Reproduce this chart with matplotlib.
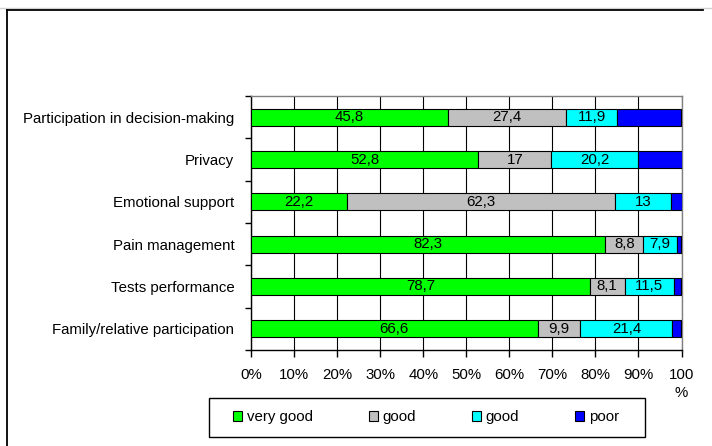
import matplotlib
matplotlib.use("Agg")
import matplotlib.pyplot as plt
from matplotlib.patches import Patch, Rectangle
from matplotlib.lines import Line2D

plt.rcParams['font.family'] = ['Liberation Sans', 'DejaVu Sans']

categories = [
    "Participation in decision-making",
    "Privacy",
    "Emotional support",
    "Pain management",
    "Tests performance",
    "Family/relative participation",
]
series_names = ["very good", "good", "good", "poor"]
very_good = [45.8, 52.8, 22.2, 82.3, 78.7, 66.6]
good_a = [27.4, 17.0, 62.3, 8.8, 8.1, 9.9]
good_b = [11.9, 20.2, 13.0, 7.9, 11.5, 21.4]
poor = [14.9, 10.0, 2.5, 1.0, 1.7, 2.1]
series = [very_good, good_a, good_b, poor]
colors = ["#00FF00", "#C0C0C0", "#00FFFF", "#0000FF"]
labelled = [True, True, True, False]
xtick_labels = ["0%", "10%", "20%", "30%", "40%", "50%", "60%", "70%",
                "80%", "90%", "100\n%"]

W, H = 712, 446
fig = plt.figure(figsize=(W / 100, H / 100), dpi=100)
ax = fig.add_axes([251 / W, 1 - 350 / H, (681.5 - 251) / W, (350 - 96) / H])

FS = 10.8
ypos = list(range(len(categories)))[::-1]


def fmt(v):
    if abs(v - round(v)) < 1e-9:
        return str(int(round(v)))
    return f"{v:.1f}".replace(".", ",")


left = [0.0] * len(categories)
for vals, col, lab in zip(series, colors, labelled):
    ax.barh(ypos, vals, left=left, height=0.4, color=col,
            edgecolor="black", linewidth=0.8, zorder=3)
    if lab:
        for y, l, v in zip(ypos, left, vals):
            ax.text(l + v / 2, y, fmt(v), ha="center", va="center",
                    fontsize=FS, zorder=4)
    left = [a + b for a, b in zip(left, vals)]

ax.set_xlim(0, 100)
ax.set_ylim(-0.5, len(categories) - 0.5)
ax.set_xticks(range(0, 101, 10))
ax.set_xticklabels(xtick_labels, fontsize=FS, linespacing=1.35, va="top")
ax.set_yticks(ypos)
ax.set_yticklabels(categories, fontsize=FS)
ax.tick_params(axis="y", length=0, pad=12)
ax.tick_params(axis="x", length=5, width=1, pad=8, direction="out")

# category boundary ticks on the left axis
ax.set_yticks([i - 0.5 for i in range(len(categories) + 1)], minor=True)
ax.tick_params(axis="y", which="minor", length=4, width=1, direction="out")

ax.grid(axis="x", color="black", linewidth=0.8, zorder=0)
ax.set_axisbelow(True)
for side in ("top", "right"):
    ax.spines[side].set_color("#808080")
    ax.spines[side].set_linewidth(1)
for side in ("left", "bottom"):
    ax.spines[side].set_color("black")
    ax.spines[side].set_linewidth(1)

# outer chart frame
fig.add_artist(Line2D([0, 1], [1 - 7.5 / H] * 2, color="#D0D0D0", linewidth=1))
fig.add_artist(Line2D([6.5 / W, 703 / W], [1 - 10 / H] * 2, color="black", linewidth=1.3))
fig.add_artist(Line2D([6.5 / W] * 2, [0, 1 - 10 / H], color="black", linewidth=1.3))

# legend box
fig.add_artist(Rectangle((209 / W, 1 - 437 / H), (645 - 209) / W, (437 - 398) / H,
                         fill=False, edgecolor="black", linewidth=1,
                         transform=fig.transFigure))
handles = [Patch(facecolor=c, edgecolor="black", linewidth=0.8) for c in colors]
fig.legend(handles, series_names, loc="center", ncol=4, frameon=False,
           bbox_to_anchor=(426 / W, 1 - 417.5 / H), fontsize=FS,
           handlelength=0.6, handleheight=0.6, handletextpad=0.3,
           columnspacing=3.75)

fig.savefig("out.png", dpi=100)
